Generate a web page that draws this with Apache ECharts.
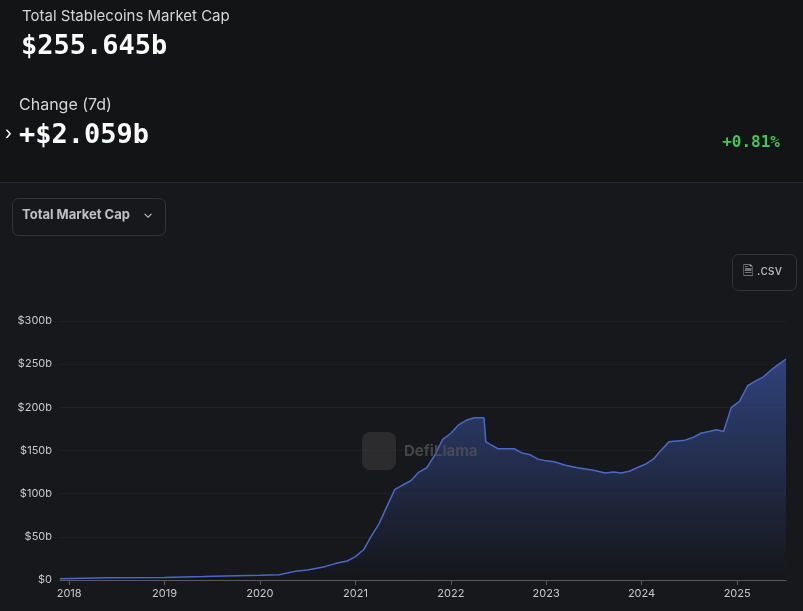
<!DOCTYPE html>
<html><head><meta charset="utf-8">
<script src="https://cdn.jsdelivr.net/npm/echarts@6/dist/echarts.min.js"></script>
<style>html,body{margin:0;padding:0;background:#131416;}#c{width:803px;height:611px;}</style>
</head><body><div id="c"></div>
<script>
const dates = ["2017-11-27","2018-06-01","2019-01-01","2019-06-01","2019-10-01","2020-01-01","2020-03-15","2020-04-15","2020-05-15","2020-07-01","2020-09-01","2020-10-15","2020-12-01","2021-01-01","2021-02-01","2021-03-01","2021-04-01","2021-05-01","2021-06-01","2021-07-01","2021-08-01","2021-09-01","2021-10-01","2021-11-01","2021-12-01","2022-01-01","2022-02-01","2022-03-01","2022-04-01","2022-05-08","2022-05-15","2022-06-01","2022-07-01","2022-09-01","2022-10-01","2022-11-01","2022-12-01","2023-01-01","2023-02-01","2023-03-15","2023-05-01","2023-07-01","2023-08-15","2023-09-15","2023-10-15","2023-11-15","2023-12-15","2024-01-15","2024-02-15","2024-03-15","2024-04-15","2024-05-15","2024-06-15","2024-07-15","2024-08-15","2024-09-15","2024-10-15","2024-11-10","2024-12-10","2025-01-10","2025-02-10","2025-03-10","2025-04-10","2025-05-10","2025-06-10","2025-07-07"];
const values = [1.5,2.5,3,4,5,5.5,6,8,10,11.5,15,19,22,27,35,50,65,85,105,110,115,125,130,145,163,170,180,185,188,188,160,157,152,152,147,145,140,138,137,133,130,127,124,125,124,126,130,134,140,150,160,161,162,165,170,172,174,172,200,207,225,230,235,243,250,256];
const yTicks = [0,50,100,150,200,250,300];
const chart = echarts.init(document.getElementById('c'));
const F = 'Inter, "Noto Sans", sans-serif';
chart.setOption({
  backgroundColor: '#131416',
  graphic: [
    {type:'rect', shape:{x:0,y:183,width:803,height:428}, style:{fill:'#17181b'}},
    {type:'rect', shape:{x:0,y:182,width:803,height:1}, style:{fill:'#2a2b2f'}},
    {type:'text', left:22, top:9, style:{text:'Total Stablecoins Market Cap', fill:'#d6d6d8', font:'15px '+F}},
    {type:'text', left:21, top:33, style:{text:'$255.645b', fill:'#ffffff', font:'bold 27px "DejaVu Sans Mono", monospace'}},
    {type:'text', left:19, top:97, style:{text:'Change (7d)', fill:'#d6d6d8', font:'16px '+F}},
    {type:'text', left:5, top:125, style:{text:'›', fill:'#ffffff', font:'18px '+F}},
    {type:'text', left:19, top:122, style:{text:'+$2.059b', fill:'#ffffff', font:'bold 27px "DejaVu Sans Mono", monospace'}},
    {type:'text', right:23, top:135, style:{text:'+0.81%', fill:'#43c65b', font:'bold 16px "DejaVu Sans Mono", monospace', align:'right'}},
    {type:'rect', shape:{x:12.5,y:198.5,width:153,height:37,r:6}, style:{fill:'#17181b', stroke:'#333438', lineWidth:1}},
    {type:'text', left:22, top:209, style:{text:'Total Market Cap', fill:'#bfc0c3', font:'bold 13px '+F}},
    {type:'text', left:143, top:208, style:{text:'⌄', fill:'#bfc0c3', font:'13px '+F}},
    {type:'rect', shape:{x:732.5,y:254.5,width:64,height:36,r:6}, style:{fill:'#17181b', stroke:'#333438', lineWidth:1}},
    {type:'text', left:743, top:265, style:{text:'🗎 .csv', fill:'#bfc0c3', font:'13px '+F}},
    {type:'rect', z:100, shape:{x:362,y:432,width:34,height:38,r:8}, style:{fill:'#3a3a3c', opacity:0.6}},
    {type:'text', z:100, left:404, top:444, style:{text:'DefiLlama', fill:'#505155', opacity:0.8, font:'bold 15px '+F}}
  ],
  grid: {left:60, right:17, top:321, bottom:31},
  xAxis: {type:'time', min:'2017-11-27', max:'2025-07-07',
    axisLine:{lineStyle:{color:'#5a5b60'}}, axisTick:{show:true, lineStyle:{color:'#5a5b60'}},
    splitLine:{show:false},
    axisLabel:{color:'#c8c8cc', fontSize:11, fontFamily:F, formatter:v=>{const d=new Date(v);return d.getMonth()===0?String(d.getFullYear()):'';}}
  },
  yAxis: {type:'value', min:0, max:300, interval:50,
    axisLabel:{color:'#c8c8cc', fontSize:11, fontFamily:F, formatter:v=>yTicks.includes(v)?(v===0?'$0':'$'+v+'b'):''},
    splitLine:{lineStyle:{color:'#1f2024'}}, axisLine:{show:false}},
  series: [{type:'line', data: dates.map((d,i)=>[d, values[i]]), showSymbol:false, smooth:false,
    lineStyle:{color:'#4a68c8', width:1.5},
    areaStyle:{color:new echarts.graphic.LinearGradient(0,0,0,1,[{offset:0,color:'#3a54a4'},{offset:1,color:'#141518'}])}}]
});
</script></body></html>
